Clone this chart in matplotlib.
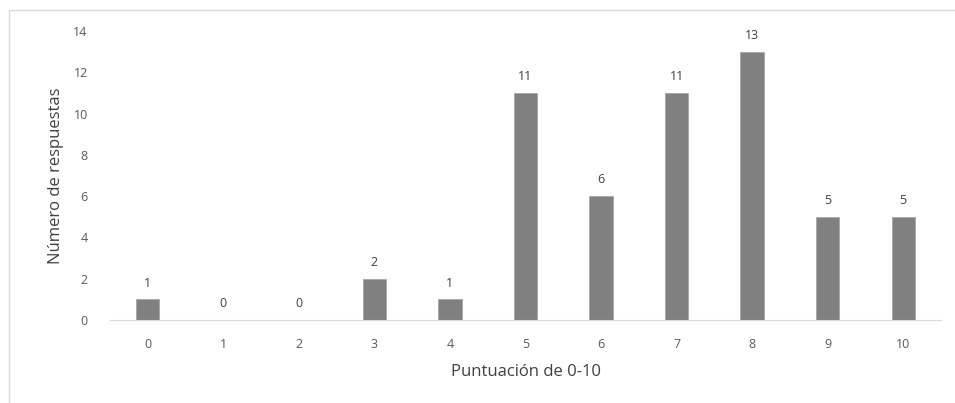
import numpy as np
import matplotlib.pyplot as plt
from matplotlib.patches import Rectangle

puntuacion = ['0', '1', '2', '3', '4', '5', '6', '7', '8', '9', '10']
respuestas = [1, 0, 0, 2, 1, 11, 6, 11, 13, 5, 5]

plt.rcParams['font.family'] = ['Open Sans', 'DejaVu Sans']

fig = plt.figure(figsize=(9.55, 4.03), dpi=100)
ax = fig.add_axes([110/955, 1-320/403, 831/955, 289/403])

# marco del grafico
fig.patches.append(Rectangle((9/955, -0.2), 1.2, 1.2 - 10/403 ,
                             transform=fig.transFigure, fill=False,
                             edgecolor='#d9d9d9', linewidth=1))

x = np.arange(len(puntuacion))
ax.bar(x, respuestas, width=0.31, color='#808080', edgecolor='#a6a6a6', linewidth=0.6)
for xi, v in zip(x, respuestas):
    ax.annotate(str(v), (xi, v), xytext=(0, 7), textcoords='offset points',
                ha='center', va='bottom', fontsize=9, color='#404040')

ax.set_xlim(-0.5, 10.5)
ax.set_ylim(0, 14)
ax.set_yticks(range(0, 15, 2))
ax.set_xticks(x)
ax.set_xticklabels(puntuacion)
ax.tick_params(length=0, labelsize=9, colors='#595959')
ax.tick_params(axis='y', pad=16)
ax.tick_params(axis='x', pad=13)
for s in ['top', 'right', 'left']:
    ax.spines[s].set_visible(False)
ax.spines['bottom'].set_color('#d9d9d9')

ax.set_ylabel('Número de respuestas', fontsize=12, color='#404040', labelpad=7)
ax.set_xlabel('Puntuación de 0-10', fontsize=12, color='#404040', labelpad=9)

fig.savefig('out.png', dpi=100)
